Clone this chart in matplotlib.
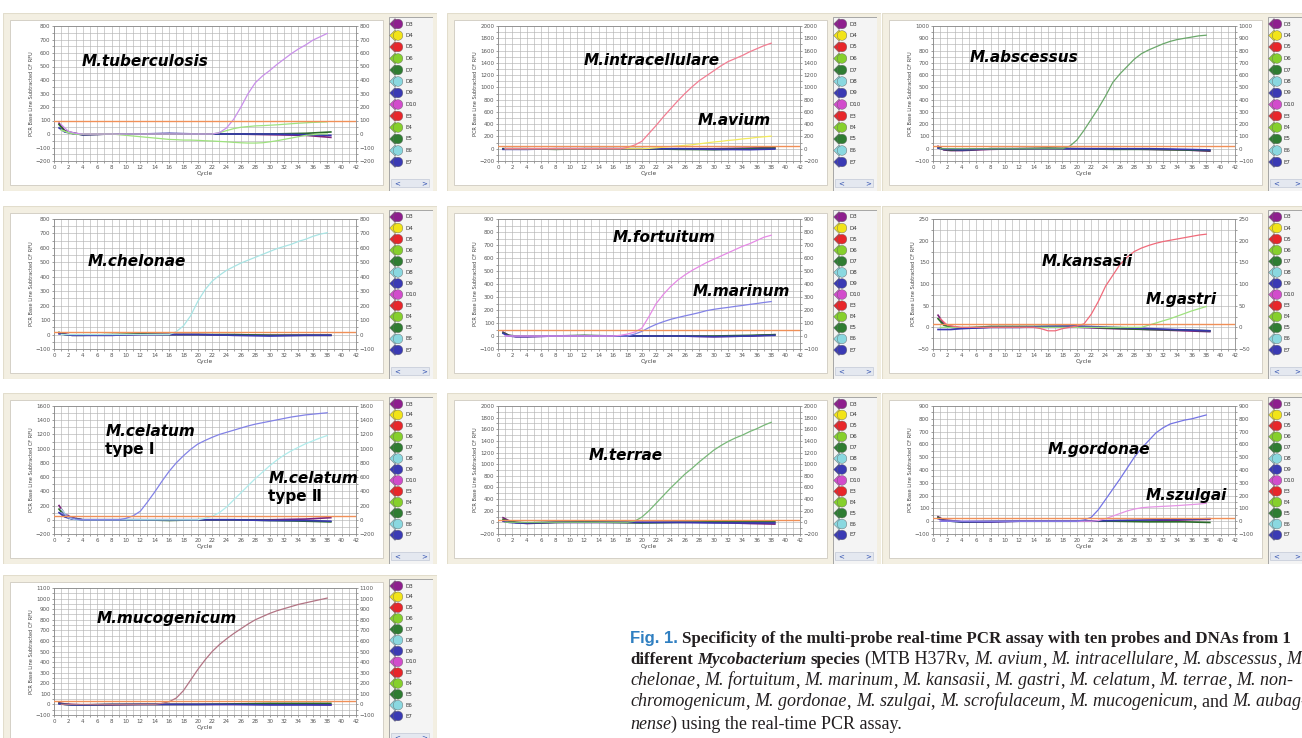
import matplotlib
matplotlib.use("Agg")
import matplotlib.pyplot as plt
from matplotlib.patches import Rectangle
from matplotlib.ticker import MultipleLocator

W, H = 1302, 738

# x values of the read-off curves
cycles = list(range(1, 39))
base_cycles = [0.7, 1.5, 2.5, 4, 8, 12, 16, 20, 25, 30, 35, 38.5]

wells = ['D3', 'D4', 'D5', 'D6', 'D7', 'D8', 'D9', 'D10', 'E3', 'E4', 'E5', 'E6', 'E7']
well_colors = ['#8e1e8e', '#f2e418', '#e8262a', '#86d02c', '#2f7d32', '#8ad8e0', '#3a3ab4',
               '#d24ccc', '#e8262a', '#86d02c', '#2f7d32', '#8ad8e0', '#3a3ab4']
flat_colors = ['#7b237b', '#2a6a2a', '#3838b0']

# ---- M. tuberculosis ----
tb_amp = [70, 20, 5, 0, 0, 0, 0, 0, 0, 0, 0, 0, 0, 0, 0, 0, 0, 0, 0, 0, 0, 0, 10, 45,
          110, 200, 300, 380, 430, 470, 515, 555, 595, 630, 660, 695, 720, 745]
tb_green_up = [30, 10, 0, 0, 0, 0, 0, 0, 0, 0, 0, 0, 0, 0, 0, 0, 0, 0, 0, 0, 0, 0, 10, 25,
               40, 50, 55, 60, 62, 65, 68, 72, 76, 80, 83, 86, 88, 90]
tb_green_down = [30, 10, 0, 0, 0, 0, 0, 0, -5, -10, -15, -20, -25, -30, -35, -40, -42, -45,
                 -45, -47, -50, -52, -55, -58, -62, -65, -67, -67, -65, -58, -50, -40, -30,
                 -20, -10, -5, 0, 0]
tb_flat = [[80, 25, 10, -5, 0, 0, 0, 0, 0, -5, -10, -25],
           [70, 20, 5, -5, 0, 0, 0, 0, 0, 0, 5, 15],
           [45, 15, 5, -5, 0, 0, 5, 0, 0, 0, -5, -10]]

# ---- M. intracellulare / M. avium ----
intra_amp = [0] * 17 + [20, 60, 120, 250, 380, 520, 650, 780, 900, 1010, 1110, 1190, 1270,
                        1350, 1420, 1470, 1520, 1580, 1630, 1680, 1720]
avium_amp = [0] * 20 + [5, 15, 25, 35, 45, 55, 65, 80, 95, 110, 120, 135, 145, 160, 170,
                        185, 195, 205]
intra_flat = [[0, 0, 0, 0, 0, 0, 0, -5, 0, 0, 10, 20],
              [0, 0, 0, 0, -10, 0, 0, 0, -10, -15, 0, 10],
              [-10, -10, -10, -10, 0, 0, 0, 0, 0, -10, -15, -5]]

# ---- M. abscessus ----
absc_amp = [0] * 18 + [20, 70, 150, 240, 330, 430, 540, 610, 670, 730, 775, 805, 830, 855,
                       875, 890, 900, 910, 920, 925]
absc_flat = [[20, -10, -15, -15, -5, 0, 0, 0, 0, -5, -10, -20],
             [10, -5, -10, -10, 0, 0, 5, 0, -5, -5, -10, -15],
             [5, -5, -5, -10, 0, 0, 0, 0, 0, 0, -5, -10]]

# ---- M. chelonae ----
chel_amp = [0] * 16 + [20, 60, 130, 230, 310, 370, 410, 445, 470, 495, 515, 535, 555, 575,
                       595, 610, 625, 645, 660, 680, 695, 705]
chel_flat = [[10, 5, -5, -5, -5, 0, 0, 0, -5, -5, -5, -5],
             [15, 0, -5, -5, 0, 5, 0, 0, 0, -5, -5, -5],
             [5, 0, -5, -5, -5, 0, 0, 0, -5, -10, -5, -5]]

# ---- M. fortuitum / M. marinum ----
fort_amp = [0] * 16 + [5, 15, 30, 60, 150, 250, 320, 380, 430, 470, 505, 535, 565, 590,
                       615, 640, 665, 690, 710, 735, 760, 775]
mari_amp = [0] * 18 + [15, 35, 65, 90, 110, 128, 142, 155, 167, 180, 195, 205, 213, 220,
                       228, 235, 243, 250, 258, 265]
fort_flat = [[30, 5, -5, -5, 0, 0, 0, 0, 0, -5, 0, 10],
             [25, 5, 0, 0, 0, 5, 0, 0, 0, 0, 5, 10],
             [20, 0, -5, -5, 0, 0, 0, 0, 0, -5, 0, 5]]

# ---- M. kansasii / M. gastri ----
kans_amp = [20, 5, 2] + [0] * 11 + [-3, -8, -8, -3, 0, 3, 8, 30, 60, 95, 120, 145, 162, 175,
                                     183, 189, 194, 198, 201, 204, 207, 210, 213, 215]
gast_amp = [0] * 29 + [5, 10, 15, 20, 26, 32, 38, 43, 48]
kans_flat = [[28, 8, 2, -2, 0, 0, 0, 0, -3, -5, -8, -10],
             [20, 5, 0, -2, 2, 2, 2, 2, -2, -5, -6, -8],
             [-5, -5, -5, -3, 0, 0, 2, 3, 0, -3, -6, -8]]

# ---- M. celatum type I / II ----
cel1_amp = [100, 40, 10, 0, 0, 0, 0, 0, 0, 20, 55, 120, 250, 390, 540, 680, 800, 900, 990,
            1065, 1115, 1160, 1200, 1230, 1260, 1290, 1320, 1345, 1365, 1385, 1405, 1425,
            1445, 1460, 1475, 1485, 1495, 1505]
cel2_amp = [150, 30, 0] + [0] * 17 + [20, 50, 100, 180, 280, 380, 480, 580, 670, 760, 840,
                                      910, 970, 1020, 1070, 1110, 1150, 1185]
cel_flat = [[200, 80, 30, 0, 0, 0, 0, 0, 0, 0, 10, 30],
            [150, 50, 20, 0, 0, 0, -10, 0, 0, -10, -20, -30],
            [100, 40, 10, 0, 0, 0, 0, 0, 0, -10, -10, -20]]

# ---- M. terrae ----
terr_amp = [0] * 18 + [20, 90, 200, 330, 460, 590, 710, 830, 930, 1040, 1140, 1240, 1320,
                       1390, 1450, 1500, 1560, 1610, 1670, 1720]
terr_flat = [[80, 30, 0, -20, 0, 0, 0, 0, 0, 0, -20, -30],
             [50, 20, 0, -10, 0, 10, 0, -10, 0, 10, 10, 10],
             [20, 0, -10, -10, 0, 0, 0, 0, 0, -10, -10, -10]]

# ---- M. gordonae / M. szulgai ----
gord_amp = [0] * 20 + [10, 30, 90, 170, 250, 330, 415, 500, 570, 630, 690, 730, 760, 775,
                       790, 800, 815, 830]
szul_amp = [0] * 22 + [5, 20, 40, 60, 80, 95, 105, 110, 113, 116, 119, 122, 126, 130, 134,
                       140]
gord_flat = [[35, 10, 5, -5, -5, 0, 0, 0, 0, 0, 10, 15],
             [30, 5, 0, -5, 0, 0, 0, 0, 0, -5, -5, -10],
             [20, 5, 0, -5, -5, 0, 0, 0, 5, 10, 15, 20]]

# ---- M. mucogenicum ----
muco_amp = [0] * 14 + [10, 25, 60, 130, 230, 330, 420, 500, 565, 620, 670, 715, 760, 800,
                       830, 860, 885, 905, 925, 945, 960, 975, 990, 1005]
muco_flat = [[15, 5, 0, -5, -5, 0, 0, 0, 0, 0, 0, -5],
             [10, 0, -5, -5, 0, 0, 0, 0, 5, 10, 10, 10],
             [5, 0, -5, -5, 0, 0, 0, 0, 0, -5, -5, -5]]

# panel table: origin(px), y limits, y step, threshold, amp curves, flat wells, labels
row_y = [13, 206, 393, 575]
row_h = [135, 130, 128, 127]
col_x = [3, 447, 882]

panels = [
    (0, 0, (-200, 800), 100, 100,
     [(tb_green_down, '#9ee27e'), (tb_green_up, '#9ee27e'), (tb_amp, '#c990ea')], tb_flat,
     [('M.tuberculosis', 0.093, 0.74)]),
    (0, 1, (-200, 2000), 200, 50,
     [(avium_amp, '#f3ea5c'), (intra_amp, '#f27d92')], intra_flat,
     [('M.intracellulare', 0.283, 0.746), ('M.avium', 0.66, 0.30)]),
    (0, 2, (-100, 1000), 100, 25, [(absc_amp, '#6aa86a')], absc_flat,
     [('M.abscessus', 0.12, 0.765)]),
    (1, 0, (-100, 800), 100, 20, [(chel_amp, '#a8e4e4')], chel_flat,
     [('M.chelonae', 0.11, 0.67)]),
    (1, 1, (-100, 900), 100, 45, [(mari_amp, '#8282e6'), (fort_amp, '#e58ae5')], fort_flat,
     [('M.fortuitum', 0.38, 0.854), ('M.marinum', 0.643, 0.44)]),
    (1, 2, (-50, 250), 50, 7, [(gast_amp, '#9ee27e'), (kans_amp, '#f06a7a')], kans_flat,
     [('M.kansasii', 0.36, 0.67), ('M.gastri', 0.705, 0.38)]),
    (2, 0, (-200, 1600), 200, 50, [(cel2_amp, '#b0ecec'), (cel1_amp, '#8282e6')], cel_flat,
     [('M.celatum', 0.17, 0.8), ('type Ⅰ', 0.17, 0.66), ('M.celatum', 0.71, 0.43),
      ('type Ⅱ', 0.71, 0.29)]),
    (2, 1, (-200, 2000), 200, 40, [(terr_amp, '#78b878')], terr_flat,
     [('M.terrae', 0.30, 0.61)]),
    (2, 2, (-100, 900), 100, 25, [(szul_amp, '#e493e4'), (gord_amp, '#7474e4')], gord_flat,
     [('M.gordonae', 0.38, 0.66), ('M.szulgai', 0.705, 0.30)]),
    (3, 0, (-100, 1100), 100, 30, [(muco_amp, '#b27484')], muco_flat,
     [('M.mucogenicum', 0.14, 0.756)]),
]

fig = plt.figure(figsize=(W / 100, H / 100), dpi=100)
fig.patch.set_facecolor('white')


def px_axes(x, y, w, h, z=1):
    return fig.add_axes([x / W, 1 - (y + h) / H, w / W, h / H], zorder=z)


def draw_panel(r, c, ylim, step, thr, amps, flats, labels):
    x0, y0 = col_x[c], row_y[r]
    ah = row_h[r]
    fh = ah + 43
    # beige frame with white inner area
    fax = px_axes(x0, y0, 434, fh, z=0)
    fax.set_xlim(0, 434)
    fax.set_ylim(fh, 0)
    fax.axis('off')
    fax.add_patch(Rectangle((0, 0), 434, fh, facecolor='#f3efe2', edgecolor='#e2ddcc', lw=0.8))
    fax.add_patch(Rectangle((7, 7), 373, fh - 13, facecolor='white', edgecolor='#cfcac0', lw=0.6))

    ax = px_axes(x0 + 51, y0 + 13, 302, ah, z=2)
    ax.set_xlim(0, 42)
    ax.set_ylim(*ylim)
    ax.xaxis.set_major_locator(MultipleLocator(2))
    ax.xaxis.set_minor_locator(MultipleLocator(1))
    ax.yaxis.set_major_locator(MultipleLocator(step))
    ax.yaxis.set_minor_locator(MultipleLocator(step / 2))
    ax.grid(which='both', color='#b4b4b4', lw=0.45)
    ax.set_axisbelow(True)
    ax.tick_params(which='both', direction='out', length=1.6, width=0.4, labelsize=4,
                   colors='#555555', right=True, labelright=True, pad=1)
    ax.set_xlabel('Cycle', fontsize=4.2, labelpad=1, color='#444444')
    ax.set_ylabel('PCR Base Line Subtracted CF RFU', fontsize=3.6, labelpad=1, color='#444444')
    for s in ax.spines.values():
        s.set_color('#8a8a8a')
        s.set_linewidth(0.6)

    for vals, col in zip(flats, flat_colors):
        ax.plot(base_cycles, vals, color=col, lw=1.2, zorder=3)
    for vals, col in amps:
        ax.plot(cycles, vals, color=col, lw=0.9, zorder=4)
    ax.axhline(thr, color='#f09058', lw=1.0, zorder=5)

    for txt, lx, ly in labels:
        ax.text(lx, ly, txt, transform=ax.transAxes, fontsize=11, fontweight='bold',
                style='normal' if txt.startswith('type') else 'oblique',
                family='DejaVu Sans', va='center', ha='left', zorder=6, clip_on=False)

    # well legend
    lw_box = min(44, W - 1 - (x0 + 386))
    lax = px_axes(x0 + 386, y0 + 4, 44, fh - 4, z=2)
    lax.set_xlim(0, 44)
    lax.set_ylim(fh - 4, 0)
    lax.axis('off')
    lax.add_patch(Rectangle((0, 0), 44, fh - 4, facecolor='#f4f4f4', edgecolor='#9a9a9a', lw=0.6))
    step_y = (fh - 40) / 12
    ys = [7 + i * step_y for i in range(len(wells))]
    lax.scatter([6] * len(ys), ys, s=30, c=well_colors, marker='D', edgecolors='#666666',
                linewidths=0.3, zorder=3)
    lax.scatter([9] * len(ys), ys, s=48, c=well_colors, marker='o', edgecolors='#666666',
                linewidths=0.3, zorder=3)
    for y, name in zip(ys, wells):
        lax.text(16, y, name, fontsize=4, va='center', color='#333333')
    lax.add_patch(Rectangle((2, fh - 16), 38, 8, facecolor='#e4e8f0', edgecolor='#b8c0d0', lw=0.4))
    lax.text(8, fh - 12, '<', fontsize=5, color='#3050b0', va='center', ha='center')
    lax.text(min(35, lw_box - 4), fh - 12, '>', fontsize=5, color='#3050b0', va='center',
             ha='center')


for p in panels:
    draw_panel(*p)

# ---- caption with mixed styles ----
renderer = fig.canvas.get_renderer()
serif = 'Liberation Serif'
ink = '#231f20'
styles = {
    'fig': dict(family='Liberation Sans', fontweight='bold', color='#2f7fc1', fontsize=12),
    'b': dict(family=serif, fontweight='bold', color=ink, fontsize=12.2),
    'bi': dict(family=serif, fontweight='bold', style='italic', color=ink, fontsize=12.2),
    'i': dict(family=serif, style='italic', color=ink, fontsize=13),
    'r': dict(family=serif, color=ink, fontsize=13),
}


def text_width(s, st):
    t = fig.text(0, 0, s, **styles[st])
    w = t.get_window_extent(renderer).width
    t.remove()
    return w


space_w = {k: text_width('x x', k) - text_width('xx', k) for k in styles}


def write_line(x, y, parts):
    for s, st in parts:
        x += space_w[st] * (len(s) - len(s.lstrip(' ')))
        core = s.strip(' ')
        if core:
            t = fig.text(x / W, 1 - y / H, core, va='baseline', ha='left', **styles[st])
            x += t.get_window_extent(renderer).width
            x += space_w[st] * (len(s) - len(s.rstrip(' ')))


cap_x = 630
write_line(cap_x, 643, [('Fig. 1.', 'fig'),
                        (' Specificity of the multi-probe real-time PCR assay with ten probes and DNAs from 1', 'b')])
write_line(cap_x, 664, [('different ', 'b'), ('Mycobacterium', 'bi'), (' species', 'b'),
                        (' (MTB H37Rv, ', 'r'), ('M. avium', 'i'), (', ', 'r'),
                        ('M. intracellulare', 'i'), (', ', 'r'), ('M. abscessus', 'i'),
                        (', ', 'r'), ('M.', 'i')])
write_line(cap_x, 685, [('chelonae', 'i'), (', ', 'r'), ('M. fortuitum', 'i'), (', ', 'r'),
                        ('M. marinum', 'i'), (', ', 'r'), ('M. kansasii', 'i'), (', ', 'r'),
                        ('M. gastri', 'i'), (', ', 'r'), ('M. celatum', 'i'), (', ', 'r'),
                        ('M. terrae', 'i'), (', ', 'r'), ('M. non-', 'i')])
write_line(cap_x, 706, [('chromogenicum', 'i'), (', ', 'r'), ('M. gordonae', 'i'), (', ', 'r'),
                        ('M. szulgai', 'i'), (', ', 'r'), ('M. scrofulaceum', 'i'), (', ', 'r'),
                        ('M. mucogenicum', 'i'), (', and ', 'r'), ('M. aubag-', 'i')])
write_line(cap_x, 729, [('nense', 'i'), (') using the real-time PCR assay.', 'r')])

fig.savefig('out.png', dpi=100)
